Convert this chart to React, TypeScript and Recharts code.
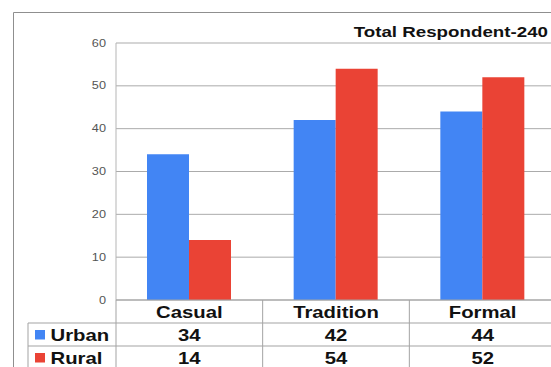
import React from "react";
import {
  Bar,
  BarChart,
  CartesianGrid,
  Customized,
  XAxis,
  YAxis,
} from "recharts";

const categories = ["Casual", "Tradition", "Formal"];
const urbanValues = [34, 42, 44];
const ruralValues = [14, 54, 52];
const seriesNames = ["Urban", "Rural"];
const yTicks = [0, 10, 20, 30, 40, 50, 60];
const title = "Total Respondent-240";

const URBAN = "#4285F4";
const RURAL = "#EA4335";
const LINE = "#a3a3a3";
const FONT = "'Liberation Sans', Arial, sans-serif";
const SX = 1.27; // text is drawn a little wide

const CHART_W = 570;
const CHART_H = 367;
const PLOT_LEFT = 116;
const PLOT_RIGHT = 556;
const BAND = (PLOT_RIGHT - PLOT_LEFT) / categories.length;
const TABLE_LEFT = 28;

const data = categories.map((category, i) => ({
  category,
  urban: urbanValues[i],
  rural: ruralValues[i],
}));

type STextProps = {
  x: number;
  y: number;
  anchor?: "start" | "middle" | "end";
  size: number;
  bold?: boolean;
  fill?: string;
  scale?: number;
  children: React.ReactNode;
};

function SText({ x, y, anchor = "middle", size, bold, fill = "#111", scale = SX, children }: STextProps) {
  return (
    <text
      transform={`translate(${x} ${y}) scale(${scale} 1)`}
      textAnchor={anchor}
      fontSize={size}
      fontWeight={bold ? 700 : 400}
      fontFamily={FONT}
      fill={fill}
    >
      {children}
    </text>
  );
}

function YTick(props: any) {
  const { x, y, payload } = props;
  return (
    <SText x={x} y={y + 3.5} anchor="end" size={10} fill="#555">
      {payload.value}
    </SText>
  );
}

// each x tick draws its category column of the data table under the plot
function TableTick(props: any) {
  const { x, y, index } = props;
  const left = x - BAND / 2;
  const right = x + BAND / 2;
  const rows = [urbanValues[index], ruralValues[index]];
  const colors = [URBAN, RURAL];
  return (
    <g>
      <line x1={left} x2={left} y1={y} y2={CHART_H} stroke={LINE} />
      {index === categories.length - 1 && (
        <line x1={right} x2={right} y1={y} y2={CHART_H} stroke={LINE} />
      )}
      <line x1={left} x2={right} y1={y + 23} y2={y + 23} stroke={LINE} />
      <line x1={left} x2={right} y1={y + 46} y2={y + 46} stroke={LINE} />
      <SText x={x} y={y + 18} size={16} bold>
        {categories[index]}
      </SText>
      {rows.map((v, r) => (
        <SText key={r} x={x} y={y + 41 + r * 23} size={16} bold>
          {v}
        </SText>
      ))}
      {index === 0 && (
        <g>
          <line x1={TABLE_LEFT} x2={left} y1={y + 23} y2={y + 23} stroke={LINE} />
          <line x1={TABLE_LEFT} x2={left} y1={y + 46} y2={y + 46} stroke={LINE} />
          <line x1={TABLE_LEFT} x2={TABLE_LEFT} y1={y + 23} y2={CHART_H} stroke={LINE} />
          {seriesNames.map((name, r) => (
            <g key={name}>
              <rect x={35} y={y + 30 + r * 23} width={10} height={9.5} fill={colors[r]} />
              <SText x={50.5} y={y + 40.5 + r * 23} anchor="start" size={16} bold>
                {name}
              </SText>
            </g>
          ))}
        </g>
      )}
    </g>
  );
}

function Frame() {
  return (
    <g>
      <line x1={13.5} x2={13.5} y1={12.5} y2={CHART_H} stroke="#8f8f8f" />
      <line x1={13.5} x2={CHART_W} y1={12.5} y2={12.5} stroke="#8f8f8f" />
      <SText x={548} y={36.7} anchor="end" size={15} bold scale={1.25}>
        {title}
      </SText>
    </g>
  );
}

export default function App() {
  return (
    <div
      style={{
        position: "absolute",
        left: 0,
        top: 0,
        width: 551,
        height: 367,
        overflow: "hidden",
        background: "#fff",
      }}
    >
      <BarChart
        width={CHART_W}
        height={CHART_H}
        data={data}
        margin={{ top: 43, right: CHART_W - PLOT_RIGHT, bottom: 0, left: PLOT_LEFT - 30 }}
        barGap={0}
      >
        <Customized component={Frame} />
        <CartesianGrid horizontal vertical={false} stroke="#ababab" />
        <YAxis
          width={30}
          domain={[0, 60]}
          ticks={yTicks}
          interval={0}
          tickSize={0}
          tickMargin={10}
          axisLine={{ stroke: "#b5b5b5" }}
          tickLine={false}
          tick={<YTick />}
        />
        <XAxis
          dataKey="category"
          height={67}
          interval={0}
          tickSize={0}
          tickMargin={0}
          axisLine={{ stroke: LINE }}
          tickLine={false}
          tick={<TableTick />}
        />
        <Bar dataKey="urban" fill={URBAN} barSize={42} isAnimationActive={false} />
        <Bar dataKey="rural" fill={RURAL} barSize={42} isAnimationActive={false} />
      </BarChart>
    </div>
  );
}
